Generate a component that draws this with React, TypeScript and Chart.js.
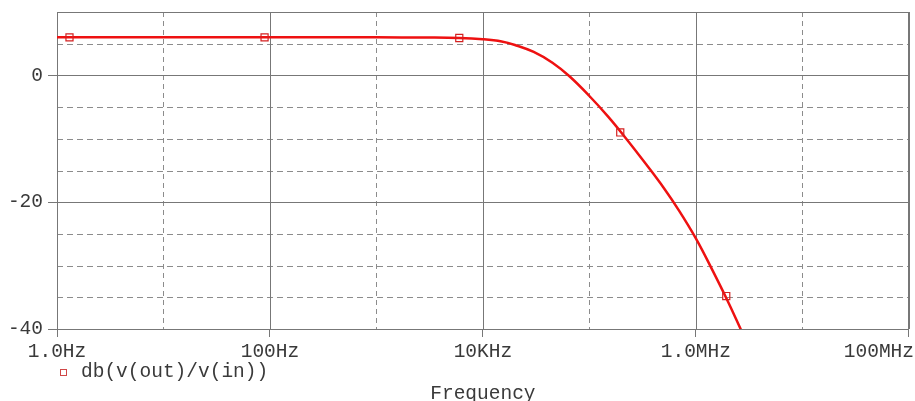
import React, { useEffect, useRef } from "react";
import { Chart, registerables } from "chart.js";

Chart.register(...registerables);

// ---- data ----
const freqHz = [1, 10, 100, 1000, 3000, 6000, 10000, 15000, 20000, 30000, 45000, 65000, 100000, 150000, 220000, 330000, 500000, 700000, 1000000, 1400000, 2000000, 2650000];
const gainDb = [6.0, 6.0, 6.0, 6.0, 5.97, 5.9, 5.7, 5.35, 4.8, 3.7, 2.0, -0.14, -3.25, -6.5, -9.9, -13.7, -17.75, -21.4, -25.7, -30.4, -35.65, -40.1];

const markerFreq = [1.31, 89, 6000, 195000, 1930000];
const markerDb = [6.0, 6.0, 5.9, -9.0, -34.8];

const xTickValues = [1, 100, 10000, 1000000, 100000000];
const xTickLabels = ["1.0Hz", "100Hz", "10KHz", "1.0MHz", "100MHz"];
const xMinorGrid = [10, 1000, 100000, 10000000];

const yTickValues = [-40, -20, 0];
const yTickLabels = ["-40", "-20", "0"];
const yMajorGrid = [0, -20];
const yMinorGrid = [5, -5, -10, -15, -25, -30, -35];

const seriesLabel = "db(v(out)/v(in))";
const xTitle = "Frequency";

const FONT = "'Liberation Mono', 'Courier New', monospace";
const FONT_SIZE = 19.5;
const TEXT_COLOR = "#3a3a3a";
const SOLID_GRID = "#777777";
const DASH_GRID = "#8c8c8c";
const RED = "#ee1111";

const gridPlugin = {
  id: "pspiceGrid",
  beforeDatasetsDraw(chart: any) {
    const { ctx, chartArea } = chart;
    const xs = chart.scales.x;
    const ys = chart.scales.y;
    const { left, right, top, bottom } = chartArea;
    ctx.save();
    ctx.lineWidth = 1;
    ctx.strokeStyle = DASH_GRID;
    ctx.setLineDash([6, 4]);
    for (const v of yMinorGrid) {
      const y = Math.round(ys.getPixelForValue(v)) + 0.5;
      ctx.beginPath();
      ctx.moveTo(left, y);
      ctx.lineTo(right, y);
      ctx.stroke();
    }
    ctx.setLineDash([5, 4]);
    for (const v of xMinorGrid) {
      const x = Math.round(xs.getPixelForValue(v)) + 0.5;
      ctx.beginPath();
      ctx.moveTo(x, top);
      ctx.lineTo(x, bottom);
      ctx.stroke();
    }
    ctx.setLineDash([]);
    ctx.strokeStyle = SOLID_GRID;
    for (const v of yMajorGrid) {
      const y = Math.round(ys.getPixelForValue(v)) + 0.5;
      ctx.beginPath();
      ctx.moveTo(left, y);
      ctx.lineTo(right, y);
      ctx.stroke();
    }
    for (const v of xTickValues) {
      const x = Math.round(xs.getPixelForValue(v)) + 0.5;
      ctx.beginPath();
      ctx.moveTo(x, top);
      ctx.lineTo(x, bottom);
      ctx.stroke();
    }
    ctx.strokeRect(Math.round(left) + 0.5, Math.round(top) + 0.5, Math.round(right - left) - 1, Math.round(bottom - top));
    ctx.restore();
  },
  afterDraw(chart: any) {
    const { ctx, chartArea } = chart;
    const xs = chart.scales.x;
    ctx.save();
    ctx.font = `${FONT_SIZE}px ${FONT}`;
    ctx.fillStyle = TEXT_COLOR;
    ctx.textBaseline = "alphabetic";
    xTickValues.forEach((v, i) => {
      const x = xs.getPixelForValue(v);
      const label = xTickLabels[i];
      const w = ctx.measureText(label).width;
      let lx = x - w / 2;
      if (lx + w > chart.width - 1) lx = chart.width - 1 - w;
      if (lx < 0) lx = 0;
      ctx.textAlign = "left";
      ctx.fillText(label, lx, chartArea.bottom + 28);
    });
    ctx.strokeStyle = "#d04848";
    ctx.lineWidth = 1;
    ctx.strokeRect(60.5, 369.5, 6, 6);
    ctx.textAlign = "left";
    ctx.fillText(seriesLabel, 81, 377);
    ctx.textAlign = "center";
    ctx.fillText(xTitle, (chartArea.left + chartArea.right) / 2, 399);
    ctx.restore();
  },
};

export default function App() {
  const canvasRef = useRef<HTMLCanvasElement | null>(null);

  useEffect(() => {
    const canvas = canvasRef.current;
    if (!canvas) return;
    const chart = new Chart(canvas, {
      type: "line",
      data: {
        datasets: [
          {
            label: seriesLabel,
            data: freqHz.map((f, i) => ({ x: f, y: gainDb[i] })),
            borderColor: RED,
            borderWidth: 2.5,
            pointRadius: 0,
            tension: 0.4,
            fill: false,
            order: 2,
          },
          {
            label: "markers",
            data: markerFreq.map((f, i) => ({ x: f, y: markerDb[i] })),
            showLine: false,
            pointStyle: "rect",
            pointRadius: 5,
            pointBorderColor: "#d42020",
            pointBorderWidth: 1.2,
            pointBackgroundColor: "rgba(255,255,255,0)",
            borderColor: "#d42020",
            order: 1,
          },
        ],
      },
      options: {
        animation: false,
        responsive: false,
        devicePixelRatio: 1,
        layout: { padding: { top: 12, right: 1, left: 0, bottom: 0 } },
        plugins: { legend: { display: false }, tooltip: { enabled: false } },
        scales: {
          x: {
            type: "logarithmic",
            min: 1,
            max: 100000000,
            afterBuildTicks: (scale: any) => {
              scale.ticks = xTickValues.map((v) => ({ value: v }));
            },
            afterFit: (scale: any) => {
              scale.height = 72;
              scale.paddingLeft = 0;
              scale.paddingRight = 0;
            },
            ticks: { display: false },
            grid: {
              display: true,
              drawOnChartArea: false,
              drawTicks: true,
              tickLength: 8,
              tickColor: SOLID_GRID,
              tickWidth: 1,
            },
            border: { display: true, color: SOLID_GRID, width: 1 },
          },
          y: {
            type: "linear",
            min: -40,
            max: 10,
            afterBuildTicks: (scale: any) => {
              scale.ticks = yTickValues.map((v) => ({ value: v }));
            },
            afterFit: (scale: any) => {
              scale.width = 57;
              scale.paddingTop = 0;
              scale.paddingBottom = 0;
            },
            ticks: {
              padding: 5,
              color: TEXT_COLOR,
              font: { family: FONT, size: FONT_SIZE },
              callback: (value: any) => {
                const idx = yTickValues.indexOf(Number(value));
                return idx >= 0 ? yTickLabels[idx] : "";
              },
            },
            grid: {
              display: true,
              drawOnChartArea: false,
              drawTicks: true,
              tickLength: 9,
              tickColor: SOLID_GRID,
              tickWidth: 1,
            },
            border: { display: true, color: SOLID_GRID, width: 1 },
          },
        },
      },
      plugins: [gridPlugin],
    } as any);
    return () => chart.destroy();
  }, []);

  return (
    <div style={{ position: "fixed", left: 0, top: 0, width: 915, height: 401, background: "#ffffff" }}>
      <canvas ref={canvasRef} width={915} height={401} style={{ display: "block" }} />
    </div>
  );
}
